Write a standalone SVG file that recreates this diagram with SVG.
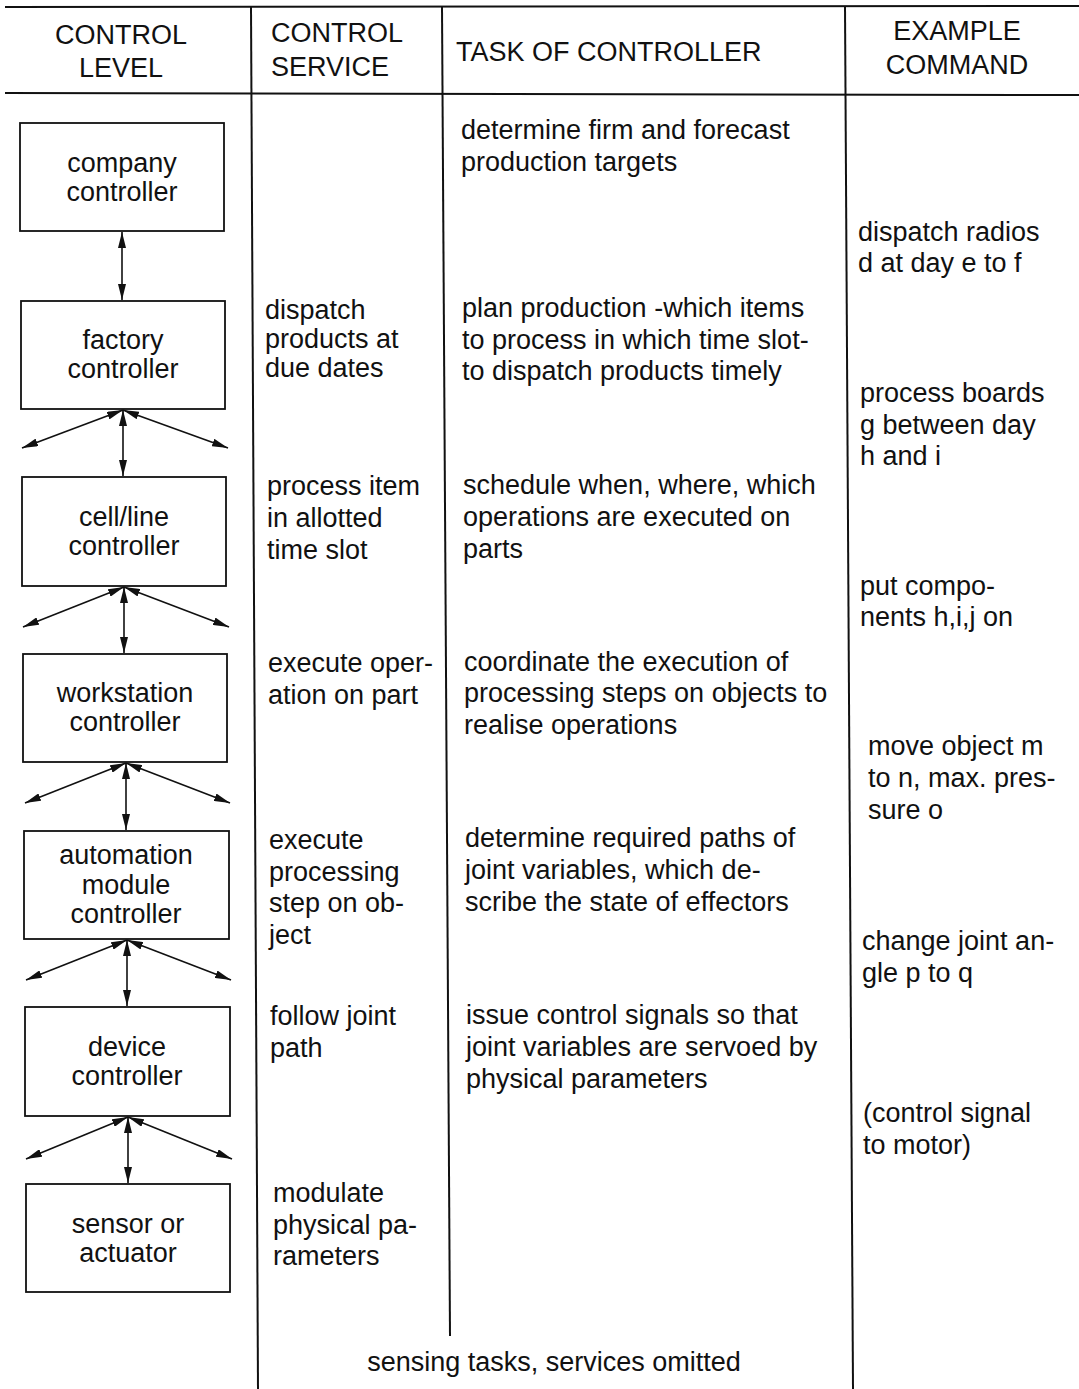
<svg xmlns="http://www.w3.org/2000/svg" width="1079" height="1389" viewBox="0 0 1079 1389">
<style>
text{font-family:"Liberation Sans",Arial,Helvetica,sans-serif;font-size:27px;fill:#111}
.c{text-anchor:middle}
.rule{stroke:#111;stroke-width:2;fill:none}
.box{stroke:#111;stroke-width:1.8;fill:#fff}
.ar{stroke:#111;stroke-width:1.6;fill:none;marker-start:url(#ah);marker-end:url(#ah)}
</style>
<defs>
<marker id="ah" viewBox="0 0 16 8" refX="16" refY="4" markerWidth="16" markerHeight="8" markerUnits="userSpaceOnUse" orient="auto-start-reverse">
<path d="M0,0 L16,4 L0,8 z" fill="#111"/>
</marker>
</defs>
<g id="table">
<line class="rule" x1="5" y1="7" x2="1079" y2="6"/>
<line class="rule" x1="5" y1="93" x2="1079" y2="95"/>
<line class="rule" x1="251" y1="7" x2="258" y2="1389"/>
<line class="rule" x1="442" y1="7" x2="450" y2="1336"/>
<line class="rule" x1="845" y1="6" x2="853" y2="1389"/>
</g>
<g id="headers">
<text class="c" x="121" y="44">CONTROL</text>
<text class="c" x="121" y="77">LEVEL</text>
<text x="271" y="42">CONTROL</text>
<text x="271" y="76">SERVICE</text>
<text x="456" y="61">TASK OF CONTROLLER</text>
<text class="c" x="957" y="40">EXAMPLE</text>
<text class="c" x="957" y="74">COMMAND</text>
</g>
<g id="company-controller">
<rect class="box" x="20" y="123" width="204" height="108"/>
<text class="c" x="122" y="172">company</text>
<text class="c" x="122" y="201">controller</text>
</g>
<g id="factory-controller">
<rect class="box" x="21" y="301" width="204" height="108"/>
<text class="c" x="123" y="349">factory</text>
<text class="c" x="123" y="378">controller</text>
</g>
<g id="cell-line-controller">
<rect class="box" x="22" y="477" width="204" height="109"/>
<text class="c" x="124" y="526">cell/line</text>
<text class="c" x="124" y="555">controller</text>
</g>
<g id="workstation-controller">
<rect class="box" x="23" y="654" width="204" height="108"/>
<text class="c" x="125" y="702">workstation</text>
<text class="c" x="125" y="731">controller</text>
</g>
<g id="automation-module-controller">
<rect class="box" x="24" y="831" width="205" height="108"/>
<text class="c" x="126" y="864">automation</text>
<text class="c" x="126" y="894">module</text>
<text class="c" x="126" y="923">controller</text>
</g>
<g id="device-controller">
<rect class="box" x="25" y="1007" width="205" height="109"/>
<text class="c" x="127" y="1056">device</text>
<text class="c" x="127" y="1085">controller</text>
</g>
<g id="sensor-or-actuator">
<rect class="box" x="26" y="1184" width="204" height="108"/>
<text class="c" x="128" y="1233">sensor or</text>
<text class="c" x="128" y="1262">actuator</text>
</g>
<g id="connectors">
<line class="ar" x1="122" y1="232" x2="122" y2="300"/>
<line class="ar" x1="123" y1="410" x2="123" y2="476"/>
<line class="ar" x1="123" y1="410" x2="22" y2="448"/>
<line class="ar" x1="123" y1="410" x2="228" y2="448"/>
<line class="ar" x1="124" y1="587" x2="124" y2="653"/>
<line class="ar" x1="124" y1="587" x2="23" y2="627"/>
<line class="ar" x1="124" y1="587" x2="229" y2="627"/>
<line class="ar" x1="126" y1="763" x2="126" y2="830"/>
<line class="ar" x1="126" y1="763" x2="25" y2="803"/>
<line class="ar" x1="126" y1="763" x2="230" y2="803"/>
<line class="ar" x1="127" y1="940" x2="127" y2="1006"/>
<line class="ar" x1="127" y1="940" x2="26" y2="980"/>
<line class="ar" x1="127" y1="940" x2="231" y2="980"/>
<line class="ar" x1="128" y1="1117" x2="128" y2="1183"/>
<line class="ar" x1="128" y1="1117" x2="26" y2="1159"/>
<line class="ar" x1="128" y1="1117" x2="232" y2="1159"/>
</g>
<g id="service">
<text x="265" y="319">dispatch</text>
<text x="265" y="348">products at</text>
<text x="265" y="377">due dates</text>
<text x="267" y="495">process item</text>
<text x="267" y="527">in allotted</text>
<text x="267" y="559">time slot</text>
<text x="268" y="672">execute oper-</text>
<text x="268" y="704">ation on part</text>
<text x="269" y="849">execute</text>
<text x="269" y="881">processing</text>
<text x="269" y="912">step on ob-</text>
<text x="269" y="944">ject</text>
<text x="270" y="1025">follow joint</text>
<text x="270" y="1057">path</text>
<text x="273" y="1202">modulate</text>
<text x="273" y="1234">physical pa-</text>
<text x="273" y="1265">rameters</text>
</g>
<g id="task">
<text x="461" y="139">determine firm and forecast</text>
<text x="461" y="171">production targets</text>
<text x="462" y="317">plan production -which items</text>
<text x="462" y="349">to process in which time slot-</text>
<text x="462" y="380">to dispatch products timely</text>
<text x="463" y="494">schedule when, where, which</text>
<text x="463" y="526">operations are executed on</text>
<text x="463" y="558">parts</text>
<text x="464" y="671">coordinate the execution of</text>
<text x="464" y="702">processing steps on objects to</text>
<text x="464" y="734">realise operations</text>
<text x="465" y="847">determine required paths of</text>
<text x="465" y="879">joint variables, which de-</text>
<text x="465" y="911">scribe the state of effectors</text>
<text x="466" y="1024">issue control signals so that</text>
<text x="466" y="1056">joint variables are servoed by</text>
<text x="466" y="1088">physical parameters</text>
</g>
<g id="example">
<text x="858" y="241">dispatch radios</text>
<text x="858" y="272">d at day e to f</text>
<text x="860" y="402">process boards</text>
<text x="860" y="434">g between day</text>
<text x="860" y="465">h and i</text>
<text x="860" y="595">put compo-</text>
<text x="860" y="626">nents h,i,j on</text>
<text x="868" y="755">move object m</text>
<text x="868" y="787">to n, max. pres-</text>
<text x="868" y="819">sure o</text>
<text x="862" y="950">change joint an-</text>
<text x="862" y="982">gle p to q</text>
<text x="863" y="1122">(control signal</text>
<text x="863" y="1154">to motor)</text>
</g>
<text class="c" x="554" y="1371">sensing tasks, services omitted</text>
</svg>
